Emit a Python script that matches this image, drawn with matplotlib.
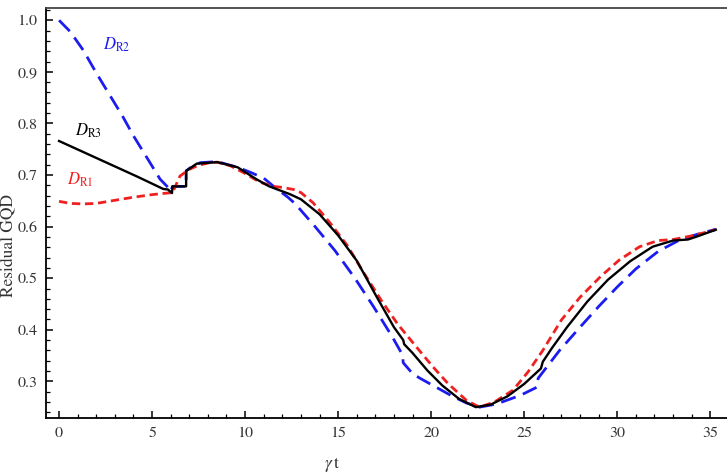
import matplotlib
matplotlib.use("Agg")
import matplotlib.pyplot as plt
from matplotlib.ticker import MultipleLocator, FormatStrFormatter

plt.rcParams["font.family"] = ["STIXGeneral", "Liberation Serif", "DejaVu Serif"]
plt.rcParams["mathtext.fontset"] = "stix"

# D_R1 (red, short dashes)
r1_t = [0, 0.6, 1.3, 2.0, 3.0, 4.0, 5.0, 5.8, 6.1, 6.5, 7.0, 7.5, 8.1, 8.5, 9.2, 9.9,
        10.8, 11.5, 12.0, 12.6, 13.0, 13.66, 14.57, 15.5, 16.35, 17.3, 18.2, 19.2, 20.1,
        20.9, 21.9, 22.6, 23.4, 24.4, 25.2, 26.0, 27.0, 28.0, 29.1, 30.1, 31.2, 32.2,
        33.0, 34.0, 35.3]
r1_d = [0.649, 0.645, 0.644, 0.645, 0.651, 0.657, 0.662, 0.665, 0.666, 0.698, 0.711,
        0.719, 0.724, 0.725, 0.718, 0.705, 0.686, 0.678, 0.676, 0.672, 0.666, 0.646,
        0.607, 0.563, 0.512, 0.458, 0.411, 0.367, 0.328, 0.296, 0.263, 0.250, 0.260,
        0.283, 0.318, 0.360, 0.419, 0.463, 0.503, 0.535, 0.561, 0.573, 0.575, 0.582,
        0.594]

# D_R2 (blue, long dashes)
r2_t = [0, 0.6, 1.3, 2.0, 2.74, 3.4, 4.0, 4.7, 5.43, 5.86, 6.0, 6.1, 6.83, 6.83, 7.2,
        7.6, 8.5, 9.6, 10.3, 11.0, 11.6, 12.3, 12.7, 13.76, 14.84, 15.9, 16.9, 17.9,
        18.45, 18.5, 19.0, 19.4, 20.3, 21.1, 21.9, 22.6, 23.5, 24.8, 25.7, 25.75, 26.9,
        28.0, 29.0, 30.0, 31.0, 32.2, 33.4, 34.3, 35.3]
r2_d = [1.000, 0.978, 0.942, 0.898, 0.854, 0.815, 0.776, 0.735, 0.692, 0.676, 0.668,
        0.678, 0.678, 0.708, 0.718, 0.724, 0.726, 0.715, 0.705, 0.694, 0.676, 0.657,
        0.644, 0.600, 0.553, 0.500, 0.445, 0.387, 0.352, 0.336, 0.315, 0.306, 0.288,
        0.272, 0.258, 0.250, 0.256, 0.273, 0.289, 0.306, 0.360, 0.405, 0.445, 0.483,
        0.518, 0.552, 0.575, 0.585, 0.595]

# D_R3 (black, solid)
r3_t = [0, 1.4, 2.8, 4.2, 5.6, 5.85, 6.07, 6.1, 6.83, 6.83, 7.4, 8.5, 9.6, 10.6, 11.3,
        12.4, 13.0, 14.0, 15.0, 16.0, 17.1, 18.0, 18.5, 18.55, 19.0, 19.8, 20.6, 21.5,
        22.4, 23.2, 24.1, 25.0, 25.9, 26.0, 26.5, 27.3, 28.4, 29.5, 30.7, 31.9, 33.0,
        33.8, 34.3, 35.3]
r3_d = [0.766, 0.743, 0.720, 0.697, 0.673, 0.672, 0.665, 0.678, 0.678, 0.708, 0.722,
        0.725, 0.715, 0.692, 0.678, 0.663, 0.653, 0.624, 0.583, 0.534, 0.462, 0.405,
        0.380, 0.372, 0.355, 0.321, 0.292, 0.266, 0.250, 0.255, 0.271, 0.295, 0.325,
        0.338, 0.365, 0.405, 0.455, 0.497, 0.533, 0.561, 0.573, 0.575, 0.581, 0.594]

blue = "#1c1cf0"
red = "#f02020"

fig = plt.figure(figsize=(7.27, 4.73), dpi=100)
ax = fig.add_axes([0.0633, 0.1163, 0.9367, 0.867])

ax.plot(r2_t, r2_d, color=blue, lw=2.0, dashes=(5.5, 2.8))
ax.plot(r1_t, r1_d, color=red, lw=2.0, dashes=(3, 1.7))
ax.plot(r3_t, r3_d, color="black", lw=1.7)

ax.text(3.1, 0.952, r"$D_{\rm R2}$", color=blue, fontsize=12, ha="center", va="center")
ax.text(1.56, 0.785, r"$D_{\rm R3}$", color="black", fontsize=12, ha="center", va="center")
ax.text(1.13, 0.69, r"$D_{\rm R1}$", color=red, fontsize=12, ha="center", va="center")

ax.set_xlim(-0.7, 35.9)
ax.set_ylim(0.229, 1.024)
ax.xaxis.set_major_locator(MultipleLocator(5))
ax.xaxis.set_minor_locator(MultipleLocator(1))
ax.set_yticks([0.3, 0.4, 0.5, 0.6, 0.7, 0.8, 0.9, 1.0])
ax.yaxis.set_minor_locator(MultipleLocator(0.02))
ax.yaxis.set_major_formatter(FormatStrFormatter("%.1f"))
ax.tick_params(which="both", direction="in", top=False, right=False,
               labelsize=11.5, labelcolor="#333333", pad=6)
ax.tick_params(which="major", length=5, width=1.1)
ax.tick_params(which="minor", length=3, width=0.9)
ax.spines["right"].set_visible(False)
for s in ["left", "bottom", "top"]:
    ax.spines[s].set_linewidth(1.3)
ax.spines["top"].set_color("#444444")

ax.set_xlabel(r"$\gamma\,$t", fontsize=12.5, color="#333333")
ax.xaxis.set_label_coords(0.42, -0.09)
ax.set_ylabel("Residual GQD", fontsize=12.5, color="#333333")
ax.yaxis.set_label_coords(-0.044, 0.42)

fig.savefig("out.png", dpi=100)
